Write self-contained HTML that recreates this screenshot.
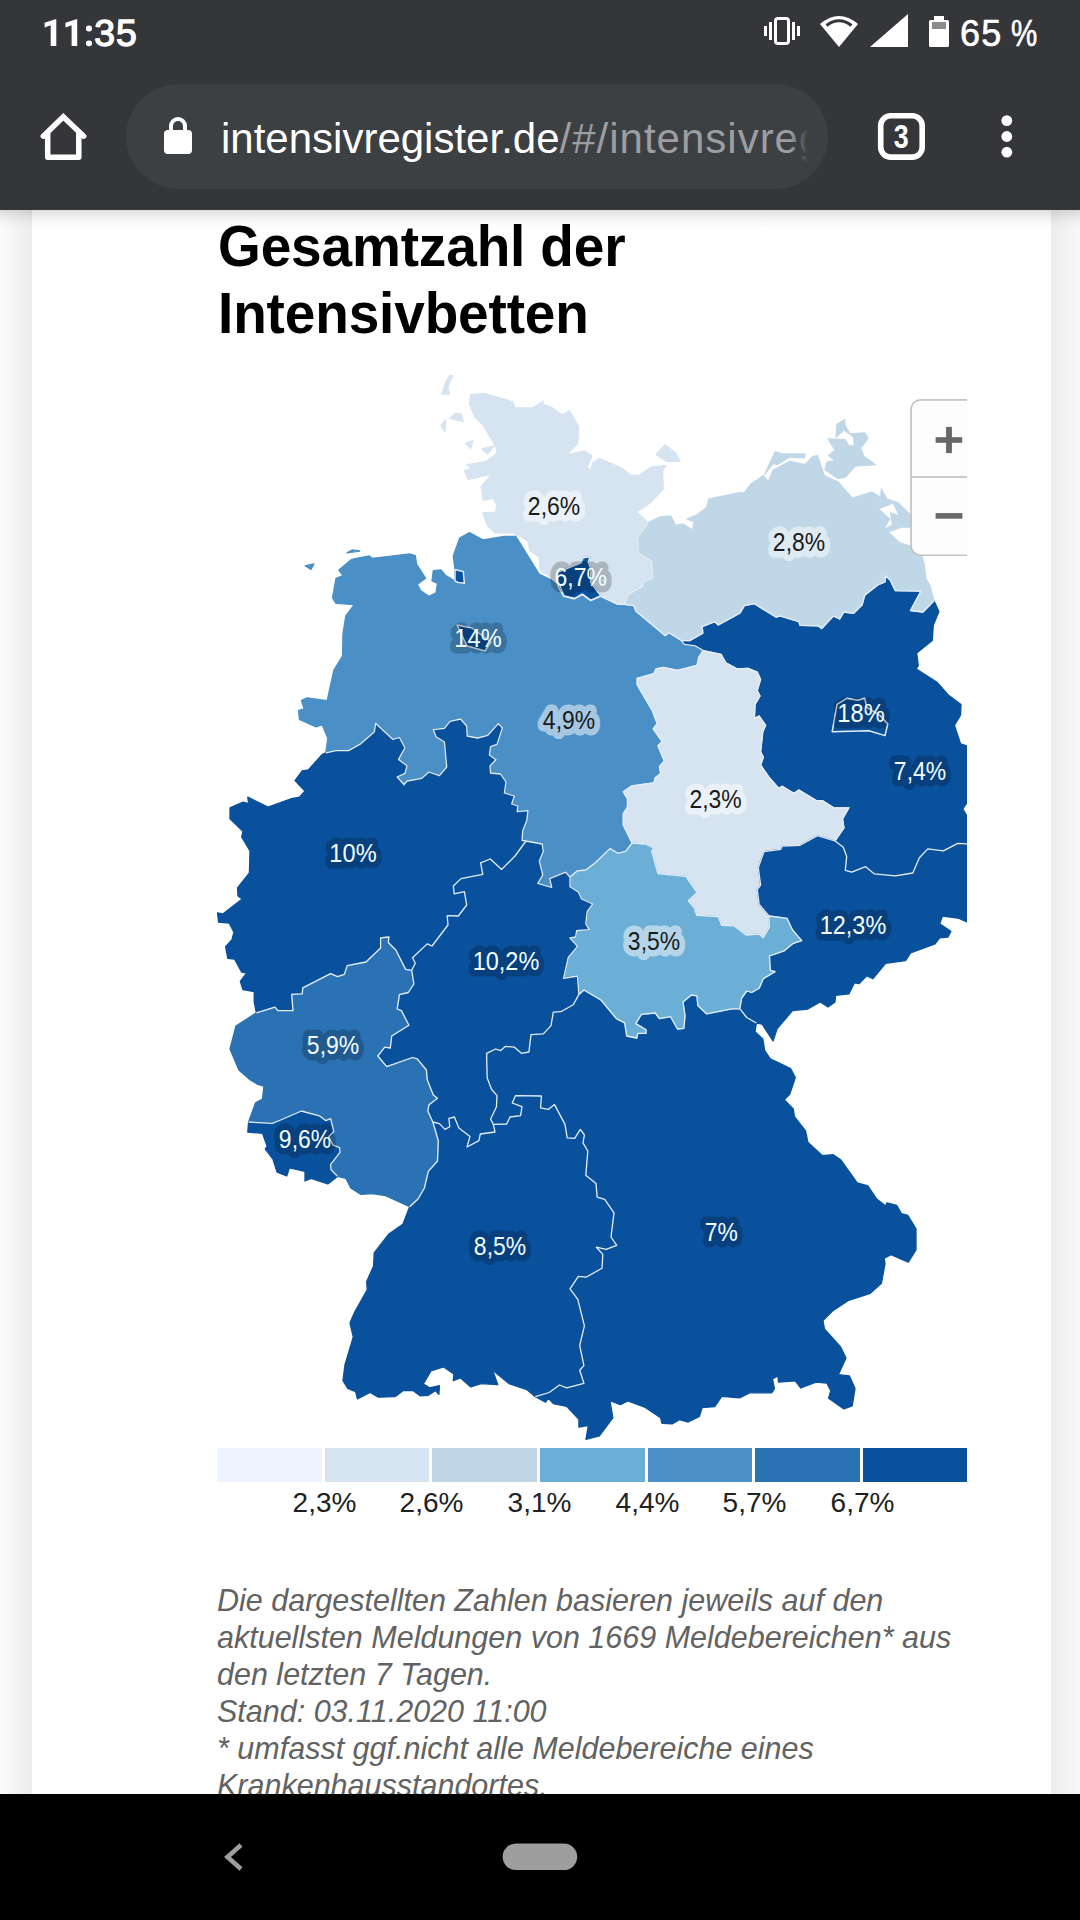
<!DOCTYPE html>
<html lang="de"><head><meta charset="utf-8"><title>Intensivregister</title>
<style>
html,body{margin:0;padding:0}
body{width:1080px;height:1920px;position:relative;overflow:hidden;background:#fafafa;font-family:"Liberation Sans",sans-serif}
.abs{position:absolute}
#bgl{left:0;top:210px;width:32px;height:1584px;background:linear-gradient(90deg,#fcfcfc 0%,#ececec 100%)}
#bgr{left:1051px;top:210px;width:29px;height:1584px;background:linear-gradient(270deg,#f9f9f9 0%,#ececec 100%)}
#card{left:32px;top:210px;width:1019px;height:1584px;background:#fff}
#top{left:0;top:0;width:1080px;height:210px;background:#35363a}
#topshadow{left:0;top:210px;width:1080px;height:18px;background:linear-gradient(180deg,rgba(0,0,0,0.13),rgba(0,0,0,0.05) 45%,rgba(0,0,0,0))}
#nav{left:0;top:1794px;width:1080px;height:126px;background:#000}
#time{left:43px;top:13.5px;color:#fff;font-size:36px;line-height:40px;letter-spacing:0.8px;white-space:nowrap;-webkit-text-stroke:0.6px #fff}
#batt{left:960px;top:13.5px;color:#fff;font-size:36px;line-height:40px;white-space:nowrap;letter-spacing:1.2px;-webkit-text-stroke:0.6px #fff}
#pct{left:1011px;top:13.5px;color:#fff;font-size:36px;line-height:40px;transform-origin:0 0;transform:scaleX(0.82);-webkit-text-stroke:0.6px #fff}
#pill{left:126px;top:84px;width:702px;height:105px;border-radius:53px;background:#3c4043}
#url{left:221px;top:111px;width:587px;height:56px;overflow:hidden;white-space:nowrap;color:#fff;font-size:42px;line-height:56px}
#url span{color:#9c9ea1;letter-spacing:1px}
#urlfade{left:790px;top:110px;width:18px;height:56px;background:linear-gradient(90deg,rgba(60,64,67,0),#3c4043)}
h1{position:absolute;left:218px;top:211.9px;margin:0;font-size:55px;letter-spacing:-0.15px;line-height:64.45px;transform-origin:0 0;transform:scaleY(1.055);font-weight:bold;color:#000;white-space:nowrap}
.ll{position:absolute;top:1484.6px;width:120px;text-align:center;font-size:28px;line-height:36px;color:#212121;white-space:nowrap}
#note{left:217px;top:1581.5px;width:780px;font-style:italic;font-size:30.5px;line-height:37px;color:#626262;white-space:nowrap}
svg text{font-family:"Liberation Sans",sans-serif;font-size:26.5px;text-anchor:middle}
svg text.halo{stroke-width:13px;stroke-linejoin:round;stroke-linecap:round}
#zoom{left:911px;top:399.5px;width:80px;height:157px;border:1.7px solid #c3c3c3;border-radius:10px;background:#fff;box-sizing:border-box}
#zoomclip{left:900px;top:390px;width:67px;height:180px;overflow:hidden}
</style></head><body>
<div class="abs" id="bgl"></div><div class="abs" id="bgr"></div>
<div class="abs" id="card"></div>
<h1>Gesamtzahl der<br>Intensivbetten</h1>
<svg class="abs" style="left:217px;top:360px" width="750" height="1085" viewBox="217 360 750 1085">
<g stroke-width="1.3" stroke-linejoin="round">
<path d="M325.8 752.8L327.8 738.0L322.2 725.0L316.0 727.0L299.4 719.4L298.6 710.3L304.2 708.9L301.4 700.6L307.0 697.8L327.2 700.6L333.9 670.0L342.5 656.0L343.0 633.9L345.8 615.8L354.2 604.7L336.0 603.3L332.5 597.8L336.0 578.3L343.0 575.6L338.9 570.0L351.4 559.4L369.4 556.0L372.2 558.3L409.7 553.9L415.3 555.6L416.7 564.4L425.6 578.3L417.2 584.4L420.8 590.8L429.0 596.4L436.0 592.8L437.5 583.3L432.0 581.0L433.3 570.6L441.0 570.0L445.8 575.6L455.0 581.0L455.0 569.4L453.3 556.0L459.7 538.0L469.4 532.5L483.3 540.0L504.0 536.4L516.7 536.4L540.0 573.3L551.0 578.8L559.7 585.0L563.9 596.0L575.0 598.3L582.0 594.0L590.3 600.3L600.0 596.0L618.0 604.4L624.4 604.4L633.9 605.6L635.8 611.0L665.0 635.6L669.0 632.8L681.0 640.3L684.4 644.4L695.0 645.8L703.3 650.6L698.9 657.0L697.0 665.3L677.5 670.3L663.6 667.5L656.0 668.9L653.9 673.6L637.2 678.3L637.2 684.7L652.5 711.0L657.2 723.6L653.3 729.0L662.2 741.7L658.0 745.8L664.4 761.0L659.4 766.7L660.8 773.6L655.3 777.8L653.9 782.8L631.7 786.0L623.3 791.7L627.5 798.6L627.5 807.0L623.3 813.9L623.3 825.0L632.2 843.0L625.6 851.4L617.8 853.3L610.0 848.6L595.6 862.5L585.8 870.0L577.5 870.8L570.0 877.0L565.6 872.2L549.7 878.6L551.7 887.5L537.8 883.3L542.8 875.0L539.4 861.0L543.3 851.4L542.2 844.0L526.0 841.0L522.0 840.3L522.8 830.6L526.7 820.8L528.0 810.6L517.2 811.7L517.8 806.0L511.7 804.0L514.4 796.0L504.4 793.0L506.0 782.0L500.6 774.0L490.6 773.0L490.0 766.0L496.0 759.7L489.4 755.0L490.6 746.7L497.0 744.4L502.5 727.8L498.3 723.6L487.8 735.3L477.5 738.0L467.2 736.0L466.7 726.0L460.6 719.0L450.0 721.4L444.4 728.3L433.3 729.7L436.0 736.7L444.4 742.0L446.7 767.0L439.4 775.6L429.0 772.0L421.7 778.3L407.0 781.0L404.2 784.7L397.2 777.0L405.0 773.3L407.0 765.8L398.6 759.4L405.0 747.8L399.4 737.5L393.0 739.4L375.6 723.3L374.4 731.7L361.0 743.6L348.6 750.6L336.0 750.6ZM347.0 552.8L352.0 550.0L359.7 551.0ZM305.0 565.8L313.9 563.9L311.0 569.4Z" fill="#4a90c6" stroke="#4a90c6"/>
<path d="M535.3 1396.7L545.6 1402.2L548.3 1398.0L553.3 1403.6L566.7 1406.4L578.9 1419.4L578.9 1427.0L588.3 1425.6L586.0 1439.4L599.4 1435.8L612.8 1417.8L610.0 1400.6L620.3 1404.7L627.8 1401.0L645.3 1407.5L660.6 1417.8L662.0 1423.3L672.2 1423.9L679.4 1419.7L688.3 1422.0L699.4 1416.4L702.2 1407.5L714.7 1406.7L721.7 1396.4L739.7 1397.8L749.4 1392.8L771.7 1392.8L774.4 1388.6L772.5 1378.9L777.8 1376.0L778.6 1382.2L795.3 1380.8L800.8 1388.0L816.0 1382.2L826.7 1383.0L830.8 1390.8L828.6 1398.3L843.9 1408.9L852.2 1405.8L855.0 1388.6L849.4 1376.0L838.3 1374.7L846.0 1358.0L840.6 1347.0L824.4 1328.9L823.0 1320.6L832.8 1310.8L848.0 1300.6L870.3 1293.3L881.4 1283.3L885.0 1263.9L884.2 1258.3L891.0 1254.7L908.3 1262.2L916.0 1250.0L916.0 1228.9L907.8 1215.3L901.4 1213.6L896.7 1205.3L887.0 1202.8L885.6 1206.0L876.7 1199.0L868.0 1186.0L857.2 1183.0L840.6 1159.7L833.3 1154.7L822.2 1155.6L807.8 1142.2L805.6 1131.0L794.4 1116.7L793.3 1108.9L784.2 1099.7L789.7 1094.4L795.3 1077.5L790.6 1068.6L770.3 1058.9L764.7 1050.6L762.8 1038.9L755.0 1031.7L756.4 1023.0L746.7 1017.5L739.7 1008.6L731.7 1008.9L706.7 1013.9L697.8 1005.6L697.0 995.8L691.4 995.0L683.0 1002.0L685.0 1015.8L683.9 1028.3L677.5 1029.0L670.6 1016.7L659.4 1018.6L655.3 1013.0L641.4 1014.4L635.8 1023.6L646.0 1029.7L646.0 1033.3L637.8 1033.3L636.7 1038.0L626.7 1036.0L624.7 1022.8L616.4 1018.6L601.0 1000.0L583.9 990.0L578.9 994.4L573.3 1004.7L560.8 1011.7L553.3 1012.2L551.0 1025.6L543.3 1033.9L531.0 1034.7L528.9 1052.0L521.4 1053.3L514.4 1047.2L505.3 1046.4L500.6 1050.6L495.6 1049.0L486.7 1053.3L486.7 1060.0L487.2 1078.0L491.4 1089.0L497.0 1095.6L496.4 1107.0L490.6 1119.0L493.3 1124.4L506.7 1124.0L510.0 1117.0L520.6 1115.6L522.0 1106.7L512.2 1103.0L515.6 1095.6L541.4 1096.0L540.6 1107.8L548.3 1109.4L554.4 1104.4L565.0 1124.4L567.2 1137.8L574.7 1138.3L580.3 1129.4L584.4 1135.0L583.0 1142.8L587.8 1151.0L585.8 1175.3L596.0 1183.6L597.2 1197.2L604.7 1199.4L614.0 1212.8L611.0 1237.0L616.7 1245.3L606.0 1249.4L596.4 1247.2L602.8 1254.4L602.0 1268.3L586.0 1277.2L578.3 1276.4L570.0 1288.9L577.8 1299.4L584.4 1325.8L579.7 1345.3L583.9 1365.6L579.7 1370.3L583.9 1383.3L566.7 1387.8L559.4 1385.0L549.2 1392.5Z" fill="#09519c" stroke="#09519c"/>
<path d="M681.0 640.3L689.7 640.6L702.8 633.3L702.2 626.7L714.7 621.7L718.3 625.0L739.7 613.3L744.4 605.6L754.4 603.6L775.8 617.0L780.0 616.0L798.9 621.7L800.0 625.3L818.0 625.8L821.7 628.6L833.3 616.0L839.7 619.0L843.9 612.0L853.6 613.3L862.0 605.0L864.7 595.3L877.8 585.0L885.0 582.0L885.6 575.8L890.6 580.6L895.3 590.6L921.0 591.0L910.5 610.5L923.0 612.0L934.0 600.8L938.9 611.4L933.3 625.3L932.2 640.6L916.7 653.0L918.3 665.6L916.0 668.9L937.0 682.2L948.0 694.7L961.0 704.4L960.6 715.0L954.4 725.3L960.6 743.9L967.0 746.0L975.0 760.0L975.0 790.0L962.8 809.0L975.0 830.0L975.0 843.9L967.0 843.9L957.8 843.3L943.3 850.8L927.8 848.9L919.4 857.8L912.8 873.0L895.3 875.8L874.4 873.9L865.6 866.7L851.7 872.2L845.3 870.3L846.7 856.4L843.3 847.2L835.0 841.0L843.9 827.8L842.5 818.9L848.9 807.8L834.2 808.0L823.0 801.0L816.0 800.3L798.9 790.0L793.9 793.3L782.2 786.4L778.6 788.3L768.9 777.2L760.6 765.0L763.3 757.2L760.6 751.7L762.8 731.7L765.6 725.3L759.0 716.0L754.4 718.3L755.0 704.4L760.0 696.0L757.2 690.6L760.6 679.4L757.2 672.0L748.0 668.3L737.0 668.9L725.8 662.8L721.0 654.4L703.3 650.6L695.0 645.8L684.4 644.4Z" fill="#09519c" stroke="#09519c"/>
<path d="M256.4 1012.8L254.2 1002.2L254.2 991.7L243.0 989.7L240.3 981.4L246.7 973.0L241.7 972.2L234.7 959.2L227.8 958.3L225.6 946.7L232.0 939.7L233.9 932.2L229.2 923.0L218.6 922.2L217.5 912.8L222.8 913.9L242.2 898.9L238.0 896.0L237.5 887.8L249.4 873.0L250.0 850.8L241.7 837.0L243.0 831.4L230.0 818.9L230.0 807.8L243.0 802.2L248.6 803.6L247.8 797.2L268.0 807.2L290.3 799.0L299.4 797.2L305.0 791.0L295.0 780.6L302.2 770.8L308.3 770.0L322.0 754.7L325.8 752.8L336.0 750.6L348.6 750.6L361.0 743.6L374.4 731.7L375.6 723.3L393.0 739.4L399.4 737.5L405.0 747.8L398.6 759.4L407.0 765.8L405.0 773.3L397.2 777.0L404.2 784.7L407.0 781.0L421.7 778.3L429.0 772.0L439.4 775.6L446.7 767.0L444.4 742.0L436.0 736.7L433.3 729.7L444.4 728.3L450.0 721.4L460.6 719.0L466.7 726.0L467.2 736.0L477.5 738.0L487.8 735.3L498.3 723.6L502.5 727.8L497.0 744.4L490.6 746.7L489.4 755.0L496.0 759.7L490.0 766.0L490.6 773.0L500.6 774.0L506.0 782.0L504.4 793.0L514.4 796.0L511.7 804.0L517.8 806.0L517.2 811.7L528.0 810.6L526.7 820.8L522.8 830.6L522.0 840.3L526.0 841.0L515.0 856.0L501.7 869.4L490.3 859.0L480.6 862.8L482.8 874.4L461.0 878.6L453.3 886.0L454.2 893.9L464.4 891.7L466.7 905.0L458.3 916.0L447.2 915.6L448.0 925.0L432.0 946.0L427.2 943.9L412.5 957.8L415.3 963.3L411.7 970.3L405.6 969.4L395.8 950.0L388.3 942.5L388.9 937.0L380.6 937.8L380.6 948.0L366.0 962.0L347.2 965.6L344.4 974.4L337.5 976.7L330.6 973.6L302.8 987.8L302.2 993.9L291.7 994.4L293.0 1010.6L277.8 1010.6L275.0 1007.2Z" fill="#09519c" stroke="#09519c"/>
<path d="M517.2 536.0L513.3 533.0L495.0 532.8L487.8 526.0L482.5 513.0L495.8 512.2L496.7 504.4L493.0 498.3L483.3 500.3L481.0 486.4L491.7 474.4L468.0 479.4L464.4 470.6L471.7 468.3L466.7 465.0L486.0 461.4L497.2 453.0L495.8 446.7L483.3 425.3L475.0 417.0L469.4 404.4L470.8 394.7L483.3 393.3L512.5 401.7L515.3 407.8L533.3 407.8L543.0 401.0L543.0 404.4L551.4 407.2L562.5 415.0L569.4 410.8L578.6 426.7L577.8 443.3L566.7 455.0L584.7 451.0L591.7 455.8L587.5 467.0L590.3 471.0L593.0 462.8L600.0 458.6L622.2 468.3L630.5 475.3L638.9 475.3L651.4 467.0L666.0 465.5L662.5 471.0L663.3 489.0L650.0 503.0L636.7 512.0L648.0 522.5L637.5 537.8L638.3 553.0L651.4 561.4L652.8 578.0L643.0 582.0L642.2 586.4L627.8 594.7L624.4 604.4L618.0 604.4L600.0 596.0L590.3 600.3L582.0 594.0L575.0 598.3L563.9 596.0L559.7 585.0L551.0 578.0L541.0 572.3L538.3 567.8L537.8 557.8L528.9 552.0L526.7 541.7ZM450.0 375.3L452.8 376.0L447.8 386.4L449.4 394.0L441.7 394.0L445.8 382.2ZM450.0 418.3L455.6 413.3L461.0 414.0L463.3 421.7ZM441.0 425.3L445.8 419.7L445.0 431.7ZM465.3 443.3L472.8 440.6L470.8 448.3ZM482.0 449.0L493.9 446.0L487.5 454.0ZM656.0 454.4L665.3 444.7L675.6 453.0L680.0 461.4L666.7 461.4Z" fill="#d6e4f1" stroke="#d6e4f1"/>
<path d="M648.0 522.5L659.7 517.0L670.8 516.0L675.6 525.3L683.3 524.0L692.5 530.0L695.3 516.0L706.4 507.8L709.0 499.0L740.6 492.5L744.4 493.0L750.8 484.0L763.3 475.8L768.3 481.4L773.0 470.3L789.7 461.4L805.0 464.7L812.8 456.4L817.5 455.6L824.4 475.8L838.3 482.2L852.2 498.0L871.7 492.0L880.0 496.7L877.0 507.8L889.7 519.0L884.0 528.6L888.3 532.2L899.4 542.5L910.5 546.0L920.3 552.0L924.0 563.0L925.8 578.6L930.0 585.6L934.0 600.8L923.0 612.0L910.5 610.5L921.0 591.0L895.3 590.6L890.6 580.6L885.6 575.8L885.0 582.0L877.8 585.0L864.7 595.3L862.0 605.0L853.6 613.3L843.9 612.0L839.7 619.0L833.3 616.0L821.7 628.6L818.0 625.8L800.0 625.3L798.9 621.7L780.0 616.0L775.8 617.0L754.4 603.6L744.4 605.6L739.7 613.3L718.3 625.0L714.7 621.7L702.2 626.7L702.8 633.3L689.7 640.6L681.0 640.3L669.0 632.8L665.0 635.6L635.8 611.0L633.9 605.6L624.4 604.4L627.8 594.7L642.2 586.4L643.0 582.0L652.8 578.0L651.4 561.4L638.3 553.0L637.5 537.8ZM828.0 438.9L845.3 439.7L848.9 446.0L854.4 446.0L853.6 437.0L850.0 434.0L864.7 432.8L868.0 438.3L860.6 448.0L863.9 456.4L875.3 464.7L855.0 466.0L845.3 477.2L837.8 478.6L825.0 469.4L827.2 462.0L835.6 461.0L828.6 455.6L835.0 450.0ZM837.0 424.4L844.4 419.7L845.3 425.8L850.0 434.0L843.9 430.0L836.0 437.0ZM775.3 451.7L782.8 454.0L805.0 454.0L804.4 457.8L789.7 457.0L777.2 464.7L773.0 463.3L764.7 474.4L770.3 462.0ZM881.4 489.0L887.0 499.0L898.0 502.8L910.5 514.7L913.3 521.7L911.0 527.0L902.0 527.0L888.3 532.0L884.7 529.0L892.5 525.0L890.6 512.8L899.4 516.0L893.3 502.8L879.4 508.3L877.0 507.0L880.6 500.8ZM687.0 519.0L696.0 515.0L694.0 521.7Z" fill="#c0d7e8" stroke="#c0d7e8"/>
<path d="M703.3 650.6L698.9 657.0L697.0 665.3L677.5 670.3L663.6 667.5L656.0 668.9L653.9 673.6L637.2 678.3L637.2 684.7L652.5 711.0L657.2 723.6L653.3 729.0L662.2 741.7L658.0 745.8L664.4 761.0L659.4 766.7L660.8 773.6L655.3 777.8L653.9 782.8L631.7 786.0L623.3 791.7L627.5 798.6L627.5 807.0L623.3 813.9L623.3 825.0L632.2 843.0L645.6 844.0L653.9 847.8L651.7 851.4L658.0 873.6L685.8 876.4L697.2 892.5L688.3 900.8L694.4 907.8L696.7 915.3L718.3 916.7L721.7 925.3L734.0 925.8L746.0 935.0L759.2 934.0L763.3 937.8L769.4 927.0L768.9 916.0L759.2 904.4L757.2 889.7L760.6 885.0L758.3 867.5L763.9 851.7L780.6 849.4L782.2 846.0L800.0 845.3L817.5 835.6L835.0 841.0L843.9 827.8L842.5 818.9L848.9 807.8L834.2 808.0L823.0 801.0L816.0 800.3L798.9 790.0L793.9 793.3L782.2 786.4L778.6 788.3L768.9 777.2L760.6 765.0L763.3 757.2L760.6 751.7L762.8 731.7L765.6 725.3L759.0 716.0L754.4 718.3L755.0 704.4L760.0 696.0L757.2 690.6L760.6 679.4L757.2 672.0L748.0 668.3L737.0 668.9L725.8 662.8L721.0 654.4Z" fill="#d6e4f1" stroke="#d6e4f1"/>
<path d="M835.0 841.0L817.5 835.6L800.0 845.3L782.2 846.0L780.6 849.4L763.9 851.7L758.3 867.5L760.6 885.0L757.2 889.7L759.2 904.4L768.9 916.0L787.0 918.3L792.5 930.0L801.7 940.6L793.3 943.3L784.2 950.8L769.4 955.8L770.3 970.3L775.0 971.7L763.3 978.6L759.2 988.3L751.7 992.5L746.7 991.0L741.7 998.0L739.7 1008.6L746.7 1017.5L756.4 1023.0L762.0 1024.0L773.0 1041.0L777.2 1028.6L792.5 1010.6L807.8 1009.0L820.3 1002.0L828.0 1007.0L835.0 1002.0L835.6 995.3L848.9 993.9L854.4 982.8L859.2 983.6L866.7 975.8L873.0 978.6L885.6 963.3L905.6 960.6L910.6 953.0L935.0 943.9L939.7 937.8L948.0 937.0L950.8 931.4L939.7 923.9L942.5 916.0L957.8 918.0L967.0 922.0L975.0 922.0L975.0 843.9L967.0 843.9L957.8 843.3L943.3 850.8L927.8 848.9L919.4 857.8L912.8 873.0L895.3 875.8L874.4 873.9L865.6 866.7L851.7 872.2L845.3 870.3L846.7 856.4L843.3 847.2Z" fill="#09519c" stroke="#09519c"/>
<path d="M632.2 843.0L625.6 851.4L617.8 853.3L610.0 848.6L595.6 862.5L585.8 870.0L577.5 870.8L570.0 877.0L570.0 886.7L578.3 892.0L581.7 899.0L592.8 904.0L587.2 911.7L585.8 924.0L589.4 929.7L576.7 930.6L575.6 937.0L570.0 938.0L577.5 946.4L568.3 957.5L563.6 978.3L577.5 976.0L578.9 994.4L583.9 990.0L601.0 1000.0L616.4 1018.6L624.7 1022.8L626.7 1036.0L636.7 1038.0L637.8 1033.3L646.0 1033.3L646.0 1029.7L635.8 1023.6L641.4 1014.4L655.3 1013.0L659.4 1018.6L670.6 1016.7L677.5 1029.0L683.9 1028.3L685.0 1015.8L683.0 1002.0L691.4 995.0L697.0 995.8L697.8 1005.6L706.7 1013.9L731.7 1008.9L739.7 1008.6L741.7 998.0L746.7 991.0L751.7 992.5L759.2 988.3L763.3 978.6L775.0 971.7L770.3 970.3L769.4 955.8L784.2 950.8L793.3 943.3L801.7 940.6L792.5 930.0L787.0 918.3L768.9 916.0L769.4 927.0L763.3 937.8L759.2 934.0L746.0 935.0L734.0 925.8L721.7 925.3L718.3 916.7L696.7 915.3L694.4 907.8L688.3 900.8L697.2 892.5L685.8 876.4L658.0 873.6L651.7 851.4L653.9 847.8L645.6 844.0Z" fill="#6baed6" stroke="#6baed6"/>
<path d="M570.0 877.0L565.6 872.2L549.7 878.6L551.7 887.5L537.8 883.3L542.8 875.0L539.4 861.0L543.3 851.4L542.2 844.0L526.0 841.0L515.0 856.0L501.7 869.4L490.3 859.0L480.6 862.8L482.8 874.4L461.0 878.6L453.3 886.0L454.2 893.9L464.4 891.7L466.7 905.0L458.3 916.0L447.2 915.6L448.0 925.0L432.0 946.0L427.2 943.9L412.5 957.8L415.3 963.3L411.7 970.3L413.9 984.0L408.3 992.5L399.4 994.7L397.2 1009.0L401.4 1010.6L408.9 1025.3L391.7 1036.0L390.3 1048.0L384.7 1047.2L377.8 1056.0L386.7 1066.7L412.5 1057.5L417.2 1058.9L426.4 1070.0L427.2 1079.7L433.3 1095.0L437.5 1098.3L429.0 1104.7L427.8 1111.0L432.8 1122.0L439.4 1123.6L445.0 1129.4L449.7 1126.7L448.9 1118.3L454.4 1117.0L458.9 1128.0L470.0 1136.4L467.0 1147.0L478.9 1140.6L480.3 1134.0L495.0 1132.0L493.3 1124.4L490.6 1119.0L496.4 1107.0L497.0 1095.6L491.4 1089.0L487.2 1078.0L486.7 1060.0L486.7 1053.3L495.6 1049.0L500.6 1050.6L505.3 1046.4L514.4 1047.2L521.4 1053.3L528.9 1052.0L531.0 1034.7L543.3 1033.9L551.0 1025.6L553.3 1012.2L560.8 1011.7L573.3 1004.7L578.9 994.4L577.5 976.0L563.6 978.3L568.3 957.5L577.5 946.4L570.0 938.0L575.6 937.0L576.7 930.6L589.4 929.7L585.8 924.0L587.2 911.7L592.8 904.0L581.7 899.0L578.3 892.0L570.0 886.7Z" fill="#09519c" stroke="#09519c"/>
<path d="M409.7 1206.7L402.8 1224.4L388.9 1234.0L374.2 1252.8L373.6 1266.0L366.7 1281.4L367.2 1289.7L354.7 1312.0L350.0 1323.0L353.3 1337.0L345.0 1364.7L343.0 1380.6L347.8 1388.3L355.6 1391.7L357.5 1398.9L370.0 1392.5L378.3 1397.2L395.0 1396.7L403.3 1390.6L413.0 1390.6L420.0 1395.8L428.3 1395.3L435.3 1390.6L438.9 1394.4L439.4 1385.6L429.7 1387.8L423.3 1384.0L431.0 1371.0L443.6 1367.0L453.9 1373.9L453.3 1380.6L460.3 1377.8L470.8 1387.0L481.0 1383.6L497.8 1384.7L493.6 1373.0L486.0 1364.7L508.9 1383.6L527.0 1389.7L535.3 1396.7L549.2 1392.5L559.4 1385.0L566.7 1387.8L583.9 1383.3L579.7 1370.3L583.9 1365.6L579.7 1345.3L584.4 1325.8L577.8 1299.4L570.0 1288.9L578.3 1276.4L586.0 1277.2L602.0 1268.3L602.8 1254.4L596.4 1247.2L606.0 1249.4L616.7 1245.3L611.0 1237.0L614.0 1212.8L604.7 1199.4L597.2 1197.2L596.0 1183.6L585.8 1175.3L587.8 1151.0L583.0 1142.8L584.4 1135.0L580.3 1129.4L574.7 1138.3L567.2 1137.8L565.0 1124.4L554.4 1104.4L548.3 1109.4L540.6 1107.8L541.4 1096.0L515.6 1095.6L512.2 1103.0L522.0 1106.7L520.6 1115.6L510.0 1117.0L506.7 1124.0L493.3 1124.4L495.0 1132.0L480.3 1134.0L478.9 1140.6L467.0 1147.0L470.0 1136.4L458.9 1128.0L454.4 1117.0L448.9 1118.3L449.7 1126.7L445.0 1129.4L439.4 1123.6L432.8 1122.0L438.3 1140.8L437.5 1161.0L428.3 1171.4L424.4 1188.0L418.0 1199.0Z" fill="#09519c" stroke="#09519c"/>
<path d="M256.4 1012.8L236.0 1026.0L230.0 1049.0L238.9 1070.0L250.0 1079.7L257.8 1084.4L263.9 1086.0L262.5 1099.0L255.6 1102.8L248.6 1122.0L272.2 1123.3L280.6 1120.0L301.4 1111.0L319.4 1115.8L325.6 1120.6L330.6 1118.6L333.8 1131.5L328.6 1136.7L333.1 1145.1L339.6 1147.7L340.0 1152.3L330.5 1164.6L331.2 1169.8L337.5 1176.4L345.8 1178.3L350.8 1188.0L361.0 1194.4L372.2 1193.6L385.6 1195.6L409.7 1206.7L418.0 1199.0L424.4 1188.0L428.3 1171.4L437.5 1161.0L438.3 1140.8L432.8 1122.0L427.8 1111.0L429.0 1104.7L437.5 1098.3L433.3 1095.0L427.2 1079.7L426.4 1070.0L417.2 1058.9L412.5 1057.5L386.7 1066.7L377.8 1056.0L384.7 1047.2L390.3 1048.0L391.7 1036.0L408.9 1025.3L401.4 1010.6L397.2 1009.0L399.4 994.7L408.3 992.5L413.9 984.0L411.7 970.3L405.6 969.4L395.8 950.0L388.3 942.5L388.9 937.0L380.6 937.8L380.6 948.0L366.0 962.0L347.2 965.6L344.4 974.4L337.5 976.7L330.6 973.6L302.8 987.8L302.2 993.9L291.7 994.4L293.0 1010.6L277.8 1010.6L275.0 1007.2Z" fill="#2a72b4" stroke="#2a72b4"/>
<path d="M248.6 1122.0L272.2 1123.3L280.6 1120.0L301.4 1111.0L319.4 1115.8L325.6 1120.6L330.6 1118.6L333.8 1131.5L328.6 1136.7L333.1 1145.1L339.6 1147.7L340.0 1152.3L330.5 1164.6L331.2 1169.8L337.5 1176.4L327.8 1183.9L311.0 1178.3L305.0 1181.0L305.0 1171.4L289.4 1167.8L286.7 1176.0L277.2 1172.2L272.8 1158.9L265.3 1149.0L267.2 1146.4L262.5 1133.3L247.8 1132.0Z" fill="#09519c" stroke="#09519c"/>
<path d="M557.8 572.2L580.9 562.8L583.3 557.8L590.0 556.7L588.3 562.2L591.0 568.9L590.6 582.2L601.0 596.0L591.0 600.6L582.8 594.4L574.4 598.9L563.3 596.0L558.3 586.7L557.2 576.7Z" fill="#09519c" stroke="#09519c"/>
<path d="M457.0 625.0L472.0 628.0L491.0 642.0L485.0 651.0L467.0 646.0ZM455.0 569.4L463.3 571.4L464.4 583.3L458.3 582.5L455.0 581.0Z" fill="#09519c" stroke="#09519c"/>
<path d="M832.2 731.7L837.0 704.4L846.7 698.3L857.8 700.3L864.7 698.3L866.7 707.2L880.0 715.6L887.8 723.9L885.0 735.6L868.9 730.8Z" fill="#09519c" stroke="#09519c"/>
<path d="M624.4 604.4L618.0 604.4L600.0 596.0L590.3 600.3L582.0 594.0L575.0 598.3L563.9 596.0L559.7 585.0L551.0 578.0L541.0 572.3L538.3 567.8L537.8 557.8L528.9 552.0L526.7 541.7L517.2 536.0M624.4 604.4L633.9 605.6L635.8 611.0L665.0 635.6L669.0 632.8L681.0 640.3M681.0 640.3L684.4 644.4L695.0 645.8L703.3 650.6M703.3 650.6L698.9 657.0L697.0 665.3L677.5 670.3L663.6 667.5L656.0 668.9L653.9 673.6L637.2 678.3L637.2 684.7L652.5 711.0L657.2 723.6L653.3 729.0L662.2 741.7L658.0 745.8L664.4 761.0L659.4 766.7L660.8 773.6L655.3 777.8L653.9 782.8L631.7 786.0L623.3 791.7L627.5 798.6L627.5 807.0L623.3 813.9L623.3 825.0L632.2 843.0M632.2 843.0L625.6 851.4L617.8 853.3L610.0 848.6L595.6 862.5L585.8 870.0L577.5 870.8L570.0 877.0M570.0 877.0L565.6 872.2L549.7 878.6L551.7 887.5L537.8 883.3L542.8 875.0L539.4 861.0L543.3 851.4L542.2 844.0L526.0 841.0M325.8 752.8L336.0 750.6L348.6 750.6L361.0 743.6L374.4 731.7L375.6 723.3L393.0 739.4L399.4 737.5L405.0 747.8L398.6 759.4L407.0 765.8L405.0 773.3L397.2 777.0L404.2 784.7L407.0 781.0L421.7 778.3L429.0 772.0L439.4 775.6L446.7 767.0L444.4 742.0L436.0 736.7L433.3 729.7L444.4 728.3L450.0 721.4L460.6 719.0L466.7 726.0L467.2 736.0L477.5 738.0L487.8 735.3L498.3 723.6L502.5 727.8L497.0 744.4L490.6 746.7L489.4 755.0L496.0 759.7L490.0 766.0L490.6 773.0L500.6 774.0L506.0 782.0L504.4 793.0L514.4 796.0L511.7 804.0L517.8 806.0L517.2 811.7L528.0 810.6L526.7 820.8L522.8 830.6L522.0 840.3L526.0 841.0M648.0 522.5L637.5 537.8L638.3 553.0L651.4 561.4L652.8 578.0L643.0 582.0L642.2 586.4L627.8 594.7L624.4 604.4M934.0 600.8L923.0 612.0L910.5 610.5L921.0 591.0L895.3 590.6L890.6 580.6L885.6 575.8L885.0 582.0L877.8 585.0L864.7 595.3L862.0 605.0L853.6 613.3L843.9 612.0L839.7 619.0L833.3 616.0L821.7 628.6L818.0 625.8L800.0 625.3L798.9 621.7L780.0 616.0L775.8 617.0L754.4 603.6L744.4 605.6L739.7 613.3L718.3 625.0L714.7 621.7L702.2 626.7L702.8 633.3L689.7 640.6L681.0 640.3M967.0 843.9L957.8 843.3L943.3 850.8L927.8 848.9L919.4 857.8L912.8 873.0L895.3 875.8L874.4 873.9L865.6 866.7L851.7 872.2L845.3 870.3L846.7 856.4L843.3 847.2L835.0 841.0M835.0 841.0L843.9 827.8L842.5 818.9L848.9 807.8L834.2 808.0L823.0 801.0L816.0 800.3L798.9 790.0L793.9 793.3L782.2 786.4L778.6 788.3L768.9 777.2L760.6 765.0L763.3 757.2L760.6 751.7L762.8 731.7L765.6 725.3L759.0 716.0L754.4 718.3L755.0 704.4L760.0 696.0L757.2 690.6L760.6 679.4L757.2 672.0L748.0 668.3L737.0 668.9L725.8 662.8L721.0 654.4L703.3 650.6M835.0 841.0L817.5 835.6L800.0 845.3L782.2 846.0L780.6 849.4L763.9 851.7L758.3 867.5L760.6 885.0L757.2 889.7L759.2 904.4L768.9 916.0M768.9 916.0L769.4 927.0L763.3 937.8L759.2 934.0L746.0 935.0L734.0 925.8L721.7 925.3L718.3 916.7L696.7 915.3L694.4 907.8L688.3 900.8L697.2 892.5L685.8 876.4L658.0 873.6L651.7 851.4L653.9 847.8L645.6 844.0L632.2 843.0M768.9 916.0L787.0 918.3L792.5 930.0L801.7 940.6L793.3 943.3L784.2 950.8L769.4 955.8L770.3 970.3L775.0 971.7L763.3 978.6L759.2 988.3L751.7 992.5L746.7 991.0L741.7 998.0L739.7 1008.6M739.7 1008.6L746.7 1017.5L756.4 1023.0M739.7 1008.6L731.7 1008.9L706.7 1013.9L697.8 1005.6L697.0 995.8L691.4 995.0L683.0 1002.0L685.0 1015.8L683.9 1028.3L677.5 1029.0L670.6 1016.7L659.4 1018.6L655.3 1013.0L641.4 1014.4L635.8 1023.6L646.0 1029.7L646.0 1033.3L637.8 1033.3L636.7 1038.0L626.7 1036.0L624.7 1022.8L616.4 1018.6L601.0 1000.0L583.9 990.0L578.9 994.4M578.9 994.4L577.5 976.0L563.6 978.3L568.3 957.5L577.5 946.4L570.0 938.0L575.6 937.0L576.7 930.6L589.4 929.7L585.8 924.0L587.2 911.7L592.8 904.0L581.7 899.0L578.3 892.0L570.0 886.7L570.0 877.0M578.9 994.4L573.3 1004.7L560.8 1011.7L553.3 1012.2L551.0 1025.6L543.3 1033.9L531.0 1034.7L528.9 1052.0L521.4 1053.3L514.4 1047.2L505.3 1046.4L500.6 1050.6L495.6 1049.0L486.7 1053.3L486.7 1060.0L487.2 1078.0L491.4 1089.0L497.0 1095.6L496.4 1107.0L490.6 1119.0L493.3 1124.4M493.3 1124.4L495.0 1132.0L480.3 1134.0L478.9 1140.6L467.0 1147.0L470.0 1136.4L458.9 1128.0L454.4 1117.0L448.9 1118.3L449.7 1126.7L445.0 1129.4L439.4 1123.6L432.8 1122.0M432.8 1122.0L427.8 1111.0L429.0 1104.7L437.5 1098.3L433.3 1095.0L427.2 1079.7L426.4 1070.0L417.2 1058.9L412.5 1057.5L386.7 1066.7L377.8 1056.0L384.7 1047.2L390.3 1048.0L391.7 1036.0L408.9 1025.3L401.4 1010.6L397.2 1009.0L399.4 994.7L408.3 992.5L413.9 984.0L411.7 970.3M411.7 970.3L415.3 963.3L412.5 957.8L427.2 943.9L432.0 946.0L448.0 925.0L447.2 915.6L458.3 916.0L466.7 905.0L464.4 891.7L454.2 893.9L453.3 886.0L461.0 878.6L482.8 874.4L480.6 862.8L490.3 859.0L501.7 869.4L515.0 856.0L526.0 841.0M411.7 970.3L405.6 969.4L395.8 950.0L388.3 942.5L388.9 937.0L380.6 937.8L380.6 948.0L366.0 962.0L347.2 965.6L344.4 974.4L337.5 976.7L330.6 973.6L302.8 987.8L302.2 993.9L291.7 994.4L293.0 1010.6L277.8 1010.6L275.0 1007.2L256.4 1012.8M248.6 1122.0L272.2 1123.3L280.6 1120.0L301.4 1111.0L319.4 1115.8L325.6 1120.6L330.6 1118.6L333.8 1131.5L328.6 1136.7L333.1 1145.1L339.6 1147.7L340.0 1152.3L330.5 1164.6L331.2 1169.8L337.5 1176.4M409.7 1206.7L418.0 1199.0L424.4 1188.0L428.3 1171.4L437.5 1161.0L438.3 1140.8L432.8 1122.0M535.3 1396.7L549.2 1392.5L559.4 1385.0L566.7 1387.8L583.9 1383.3L579.7 1370.3L583.9 1365.6L579.7 1345.3L584.4 1325.8L577.8 1299.4L570.0 1288.9L578.3 1276.4L586.0 1277.2L602.0 1268.3L602.8 1254.4L596.4 1247.2L606.0 1249.4L616.7 1245.3L611.0 1237.0L614.0 1212.8L604.7 1199.4L597.2 1197.2L596.0 1183.6L585.8 1175.3L587.8 1151.0L583.0 1142.8L584.4 1135.0L580.3 1129.4L574.7 1138.3L567.2 1137.8L565.0 1124.4L554.4 1104.4L548.3 1109.4L540.6 1107.8L541.4 1096.0L515.6 1095.6L512.2 1103.0L522.0 1106.7L520.6 1115.6L510.0 1117.0L506.7 1124.0L493.3 1124.4" fill="none" stroke="#e6eef8"/>
<path d="M517.2 536.3L526.7 541.7L528.9 552L537.8 557.8L538.3 567.8L541 572.5L551 578.4L540 573.3Z" fill="#fff" stroke="#fff" stroke-width="1.2"/>
<path d="M557.8 572.2L580.9 562.8L583.3 557.8L590.0 556.7L588.3 562.2L591.0 568.9L590.6 582.2L601.0 596.0L591.0 600.6L582.8 594.4L574.4 598.9L563.3 596.0L558.3 586.7L557.2 576.7Z" fill="none" stroke="#e6eef8" stroke-width="1.5"/>
<path d="M457.0 625.0L472.0 628.0L491.0 642.0L485.0 651.0L467.0 646.0ZM455.0 569.4L463.3 571.4L464.4 583.3L458.3 582.5L455.0 581.0Z" fill="none" stroke="#e6eef8" stroke-width="1.5"/>
<path d="M832.2 731.7L837.0 704.4L846.7 698.3L857.8 700.3L864.7 698.3L866.7 707.2L880.0 715.6L887.8 723.9L885.0 735.6L868.9 730.8Z" fill="none" stroke="#e6eef8" stroke-width="1.5"/>
</g>
<text transform="translate(554.0 515.0) scale(0.866 1)" class="halo" fill="#fff" stroke="#fff" opacity="0.5">2,6%</text>
<text transform="translate(554.0 515.0) scale(0.866 1)" fill="#1a1a1a">2,6%</text>
<text transform="translate(799.0 551.0) scale(0.866 1)" class="halo" fill="#fff" stroke="#fff" opacity="0.5">2,8%</text>
<text transform="translate(799.0 551.0) scale(0.866 1)" fill="#1a1a1a">2,8%</text>
<text transform="translate(580.7 586.0) scale(0.866 1)" class="halo" fill="#000" stroke="#000" opacity="0.2">6,7%</text>
<text transform="translate(580.7 586.0) scale(0.866 1)" fill="#f2ffff">6,7%</text>
<text transform="translate(478.0 646.5) scale(0.892 1)" class="halo" fill="#000" stroke="#000" opacity="0.2">14%</text>
<text transform="translate(478.0 646.5) scale(0.892 1)" fill="#f2ffff">14%</text>
<text transform="translate(569.0 729.0) scale(0.866 1)" class="halo" fill="#fff" stroke="#fff" opacity="0.5">4,9%</text>
<text transform="translate(569.0 729.0) scale(0.866 1)" fill="#1a1a1a">4,9%</text>
<text transform="translate(861.0 721.6) scale(0.892 1)" class="halo" fill="#000" stroke="#000" opacity="0.2">18%</text>
<text transform="translate(861.0 721.6) scale(0.892 1)" fill="#f2ffff">18%</text>
<text transform="translate(920.0 780.0) scale(0.866 1)" class="halo" fill="#000" stroke="#000" opacity="0.2">7,4%</text>
<text transform="translate(920.0 780.0) scale(0.866 1)" fill="#f2ffff">7,4%</text>
<text transform="translate(715.6 808.0) scale(0.866 1)" class="halo" fill="#fff" stroke="#fff" opacity="0.5">2,3%</text>
<text transform="translate(715.6 808.0) scale(0.866 1)" fill="#1a1a1a">2,3%</text>
<text transform="translate(353.0 862.0) scale(0.892 1)" class="halo" fill="#000" stroke="#000" opacity="0.2">10%</text>
<text transform="translate(353.0 862.0) scale(0.892 1)" fill="#f2ffff">10%</text>
<text transform="translate(654.0 950.0) scale(0.866 1)" class="halo" fill="#fff" stroke="#fff" opacity="0.5">3,5%</text>
<text transform="translate(654.0 950.0) scale(0.866 1)" fill="#1a1a1a">3,5%</text>
<text transform="translate(853.0 934.0) scale(0.886 1)" class="halo" fill="#000" stroke="#000" opacity="0.2">12,3%</text>
<text transform="translate(853.0 934.0) scale(0.886 1)" fill="#f2ffff">12,3%</text>
<text transform="translate(506.0 970.0) scale(0.886 1)" class="halo" fill="#000" stroke="#000" opacity="0.2">10,2%</text>
<text transform="translate(506.0 970.0) scale(0.886 1)" fill="#f2ffff">10,2%</text>
<text transform="translate(333.0 1054.2) scale(0.866 1)" class="halo" fill="#000" stroke="#000" opacity="0.2">5,9%</text>
<text transform="translate(333.0 1054.2) scale(0.866 1)" fill="#f2ffff">5,9%</text>
<text transform="translate(305.0 1148.0) scale(0.866 1)" class="halo" fill="#000" stroke="#000" opacity="0.2">9,6%</text>
<text transform="translate(305.0 1148.0) scale(0.866 1)" fill="#f2ffff">9,6%</text>
<text transform="translate(500.0 1255.0) scale(0.866 1)" class="halo" fill="#000" stroke="#000" opacity="0.2">8,5%</text>
<text transform="translate(500.0 1255.0) scale(0.866 1)" fill="#f2ffff">8,5%</text>
<text transform="translate(721.2 1240.8) scale(0.862 1)" class="halo" fill="#000" stroke="#000" opacity="0.2">7%</text>
<text transform="translate(721.2 1240.8) scale(0.862 1)" fill="#f2ffff">7%</text>
</svg>
<svg class="abs" style="left:900px;top:390px" width="67" height="180" viewBox="900 390 67 180">
<rect x="911.050" y="399.950" width="80" height="155.300" rx="9.500" fill="#fdfdfd" stroke="#c3c3c3" stroke-width="1.700"/>
<rect x="911" y="476.200" width="80" height="1.700" fill="#c3c3c3"/>
<rect x="935.600" y="437.200" width="26.600" height="5.600" fill="#686868"/>
<rect x="946.100" y="426.900" width="5.800" height="26.200" fill="#686868"/>
<rect x="935.600" y="513.100" width="26.800" height="5.600" fill="#686868"/>
</svg>
<div style="position:absolute;left:217px;top:1448px;width:105px;height:33.5px;background:#eff3ff"></div>
<div style="position:absolute;left:325px;top:1448px;width:104px;height:33.5px;background:#d6e4f1"></div>
<div style="position:absolute;left:432px;top:1448px;width:105px;height:33.5px;background:#c0d7e8"></div>
<div style="position:absolute;left:540px;top:1448px;width:105px;height:33.5px;background:#6baed6"></div>
<div style="position:absolute;left:648px;top:1448px;width:104px;height:33.5px;background:#4a90c6"></div>
<div style="position:absolute;left:755px;top:1448px;width:105px;height:33.5px;background:#2a72b4"></div>
<div style="position:absolute;left:863px;top:1448px;width:104px;height:33.5px;background:#09519c"></div>
<div class="ll" style="left:264.5px">2,3%</div>
<div class="ll" style="left:371.5px">2,6%</div>
<div class="ll" style="left:479.5px">3,1%</div>
<div class="ll" style="left:587.5px">4,4%</div>
<div class="ll" style="left:694.5px">5,7%</div>
<div class="ll" style="left:802.5px">6,7%</div>
<div class="abs" id="note">Die dargestellten Zahlen basieren jeweils auf den<br>aktuellsten Meldungen von 1669 Meldebereichen* aus<br>den letzten 7 Tagen.<br>Stand: 03.11.2020 11:00<br>* umfasst ggf.nicht alle Meldebereiche eines<br>Krankenhausstandortes.</div>
<div class="abs" id="top"></div>
<div class="abs" id="topshadow"></div>

<div class="abs" id="batt">65</div><div class="abs" id="pct">%</div>
<svg class="abs" style="left:0;top:0" width="1080" height="210" viewBox="0 0 1080 210">
<!-- clock -->
<g fill="#fff">
<path d="M56.300 19.200 V46 H50.700 V25.300 L44.600 27.500 V22.800 L55.400 19.200 Z"/>
<path d="M77.200 19.200 V46 H71.600 V25.300 L65.500 27.500 V22.800 L76.300 19.200 Z"/>
<rect x="86" y="25.600" width="6" height="5.800" rx="2.600"/><rect x="86" y="40.400" width="6" height="5.800" rx="2.600"/>
<text x="94.300" y="46" text-anchor="start" style="font-size:37.400px;stroke-width:1.300px;stroke:#fff;text-anchor:start;letter-spacing:0.900px">35</text>
</g>
<!-- vibrate -->
<g fill="#fff">
<rect x="764" y="26" width="3" height="10"/><rect x="769" y="22" width="3" height="18"/>
<rect x="792" y="22" width="3" height="18"/><rect x="797" y="26" width="3" height="10"/>
</g>
<rect x="775.5" y="18.5" width="13" height="25" rx="2.5" fill="none" stroke="#fff" stroke-width="3"/>
<!-- wifi -->
<path d="M820 24 Q839 8 858 24 L839 47 Z" fill="#fff"/>
<path d="M826.5 25.5 Q839 16 851.500 25.500" fill="none" stroke="#35363a" stroke-width="3"/>
<!-- signal -->
<path d="M870 47 L908 47 L908 14 Z" fill="#fff"/>
<!-- battery -->
<path d="M934 16 h10 v4 h3.500 q1.500 0 1.500 1.500 v24 q0 1.500 -1.500 1.500 h-17 q-1.500 0 -1.500 -1.500 v-24 q0 -1.500 1.500 -1.500 h3.500 z" fill="#fff"/>
<rect x="932" y="22" width="14" height="7" fill="#8a8b8d"/>
<!-- home -->
<path d="M43.300 136.200 L63.300 116.800 L83.700 136.200" fill="none" stroke="#fff" stroke-width="5.500" stroke-linecap="round" stroke-linejoin="miter"/><path d="M47.700 133 V157.200 H78.800 V133" fill="none" stroke="#fff" stroke-width="5.500" stroke-linejoin="round"/>
<!-- lock -->
<rect x="164" y="130" width="28" height="24" rx="4" fill="#fff"/>
<path d="M171 131 v-5 a7 7 0 0 1 14 0 v5" fill="none" stroke="#fff" stroke-width="4"/>
<!-- tabs -->
<rect x="880.700" y="115.800" width="41.500" height="41.300" rx="10" fill="none" stroke="#fff" stroke-width="5.600"/>
<text transform="translate(901.300 147.700) scale(0.8 1)" font-weight="bold" fill="#fff" stroke="none" style="stroke-width:0;font-size:33.500px">3</text>
<!-- menu -->
<circle cx="1006.800" cy="120.600" r="5.400" fill="#fff"/><circle cx="1006.800" cy="136.500" r="5.400" fill="#fff"/><circle cx="1006.800" cy="152.200" r="5.400" fill="#fff"/>
</svg>
<div class="abs" id="pill"></div>
<svg class="abs" style="left:150px;top:100px" width="60" height="70" viewBox="150 100 60 70">
<rect x="164" y="130" width="28" height="24" rx="4" fill="#fff"/>
<path d="M171 131 v-5 a7 7 0 0 1 14 0 v5" fill="none" stroke="#fff" stroke-width="4"/>
</svg>
<div class="abs" id="url">intensivregister.de<span>/#/intensivregister</span></div>
<div class="abs" id="urlfade"></div>
<div class="abs" id="nav"></div>
<svg class="abs" style="left:0;top:1793px" width="1080" height="127" viewBox="0 1793 1080 127">
<path d="M241 1845 L227.500 1857 L241 1869" fill="none" stroke="#9e9e9e" stroke-width="4.600"/>
<rect x="502.600" y="1843.500" width="74.600" height="26.600" rx="13.300" fill="#9e9e9e"/>
</svg>
</body></html>
